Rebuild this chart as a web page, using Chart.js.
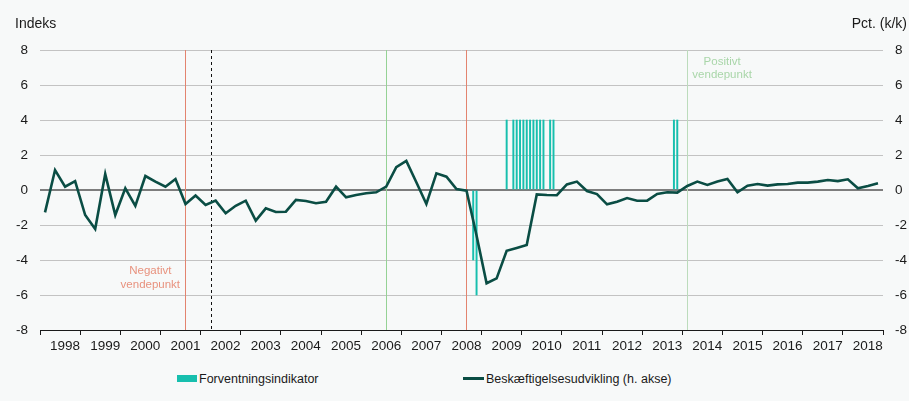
<!DOCTYPE html>
<html>
<head>
<meta charset="utf-8">
<script src="https://cdn.jsdelivr.net/npm/chart.js@4.4.1/dist/chart.umd.min.js"></script>
<style>
  body { margin: 0; background: #f7f9f9; font-family: 'Liberation Sans', Arial, sans-serif; color: #1a1a1a; }
  #wrap { position: relative; width: 909px; height: 401px; overflow: hidden; }
  #chart { position: absolute; left: 0; top: 0; }
  .axis-title { position: absolute; top: 15px; font-size: 14px; line-height: 16px; }
  .legend { position: absolute; top: 372px; font-size: 12.5px; line-height: 15px; white-space: nowrap; }
  .legend .box { display: inline-block; width: 20px; height: 7px; background: #17bfae; vertical-align: middle; margin-right: 2px; position: relative; top: -1px; }
  .legend .ln { display: inline-block; width: 21px; height: 3px; background: #0a4d44; vertical-align: middle; margin-right: 2px; position: relative; top: -1px; }
</style>
</head>
<body>
<div id="wrap">
  <canvas id="chart" width="909" height="362"></canvas>
  <div class="axis-title" style="left:15px">Indeks</div>
  <div class="axis-title" style="right:2px">Pct. (k/k)</div>
  <div class="legend" style="left:177px"><span class="box"></span>Forventningsindikator</div>
  <div class="legend" style="left:463px"><span class="ln"></span>Beskæftigelsesudvikling (h. akse)</div>
</div>
<script>
// år på x-aksen
const yearLabels = ['1998', '1999', '2000', '2001', '2002', '2003', '2004', '2005', '2006', '2007',
  '2008', '2009', '2010', '2011', '2012', '2013', '2014', '2015', '2016', '2017', '2018'];
const firstYear = 1998;

// beskæftigelsesudvikling, pct. k/k, kvartaler fra 1998K1
const employment = [
  -1.28, 1.14, 0.19, 0.51, -1.43, -2.23, 0.91, -1.43, 0.10, -0.91, 0.80, 0.48, 0.19, 0.63, -0.80, -0.32,
  -0.86, -0.61, -1.33, -0.90, -0.61, -1.75, -1.05, -1.26, -1.24, -0.57, -0.63, -0.76, -0.67, 0.19, -0.42, -0.29,
  -0.19, -0.13, 0.19, 1.30, 1.66, 0.44, -0.80, 0.95, 0.76, 0.06, -0.04, -2.60, -5.33, -5.05, -3.47, -3.31,
  -3.14, -0.25, -0.29, -0.30, 0.32, 0.48, -0.06, -0.23, -0.82, -0.67, -0.46, -0.61, -0.61, -0.23, -0.13, -0.15,
  0.23, 0.48, 0.29, 0.48, 0.63, -0.13, 0.25, 0.34, 0.25, 0.32, 0.34, 0.42, 0.42, 0.48, 0.57, 0.51,
  0.61, 0.10, 0.23, 0.38
];

// forventningsindikator, måneder med signal
const indicatorMonths = ['2008-10', '2008-11', '2009-08', '2009-10', '2009-11', '2009-12', '2010-01', '2010-02',
  '2010-03', '2010-04', '2010-05', '2010-06', '2010-07', '2010-09', '2010-10', '2013-10', '2013-11'];
const indicatorValues = [-4, -6, 4, 4, 4, 4, 4, 4, 4, 4, 4, 4, 4, 4, 4, 4, 4];

// vendepunkter (årstal med decimaler)
const turningDates = [2001.62, 2002.25, 2006.63, 2008.62, 2014.12];
const turningKinds = ['neg', 'cut', 'pos', 'neg', 'pos2'];

const lineStyles = {
  neg: { color: '#e3846f', dash: [] },
  cut: { color: '#111111', dash: [3, 3] },
  pos: { color: '#95d295', dash: [] },
  pos2: { color: '#bcdcbc', dash: [] }
};

const monthToX = s => {
  const [y, m] = s.split('-').map(Number);
  return y + (m - 0.5) / 12;
};

const turningPlugin = {
  id: 'turning',
  beforeDatasetsDraw(chart) {
    const { ctx, chartArea, scales } = chart;
    ctx.save();
    turningDates.forEach((d, i) => {
      const st = lineStyles[turningKinds[i]];
      const x = Math.round(scales.x.getPixelForValue(d)) + 0.5;
      ctx.strokeStyle = st.color;
      ctx.lineWidth = 1;
      ctx.setLineDash(st.dash);
      ctx.beginPath();
      ctx.moveTo(x, chartArea.top);
      ctx.lineTo(x, chartArea.bottom);
      ctx.stroke();
    });
    ctx.setLineDash([]);
    ctx.font = '11.5px "Liberation Sans", Arial, sans-serif';
    ctx.textAlign = 'center';
    ctx.textBaseline = 'middle';
    const xNeg = scales.x.getPixelForValue(turningDates[0]);
    ctx.fillStyle = '#e8927e';
    ctx.fillText('Negativt', xNeg - 35, 271);
    ctx.fillText('vendepunkt', xNeg - 35, 285);
    const xPos = scales.x.getPixelForValue(turningDates[4]);
    ctx.fillStyle = '#a9d6a9';
    ctx.fillText('Positivt', xPos + 35, 62);
    ctx.fillText('vendepunkt', xPos + 35, 75);
    ctx.restore();
  }
};

const tickFont = { family: "'Liberation Sans', Arial, sans-serif", size: 13.5 };

new Chart(document.getElementById('chart'), {
  data: {
    datasets: [
      {
        type: 'line',
        label: 'Beskæftigelsesudvikling (h. akse)',
        data: employment.map((v, i) => ({ x: firstYear + (i + 0.5) / 4, y: v })),
        borderColor: '#0a4d44',
        borderWidth: 2.6,
        pointRadius: 0,
        tension: 0,
        yAxisID: 'y2',
        order: 0
      },
      {
        type: 'bar',
        label: 'Forventningsindikator',
        data: indicatorMonths.map((m, i) => ({ x: monthToX(m), y: indicatorValues[i] })),
        backgroundColor: '#17bfae',
        barThickness: 1.3,
        yAxisID: 'y',
        order: 1
      }
    ]
  },
  plugins: [turningPlugin],
  options: {
    responsive: false,
    animation: false,
    layout: { padding: { top: 50, left: 0, right: 0, bottom: 0 } },
    plugins: { legend: { display: false }, tooltip: { enabled: false } },
    scales: {
      x: {
        type: 'linear',
        offset: false,
        min: firstYear,
        max: firstYear + yearLabels.length,
        afterFit: s => { s.height = 32; },
        ticks: {
          stepSize: 1,
          autoSkip: false,
          maxRotation: 0,
          labelOffset: 25,
          padding: 3,
          color: '#1a1a1a',
          font: tickFont,
          callback: (v, i) => yearLabels[i] ?? ''
        },
        grid: { offset: false, drawOnChartArea: false, color: '#1a1a1a', tickLength: 5 },
        border: { color: '#1a1a1a', width: 1 }
      },
      y: {
        position: 'left',
        min: -8,
        max: 8,
        afterFit: s => { s.width = 40; },
        ticks: { stepSize: 2, padding: 12, color: '#1a1a1a', font: tickFont },
        grid: {
          drawTicks: false,
          color: c => c.tick.value === 0 ? '#7d7d7d' : '#c3c3c3',
          lineWidth: c => c.tick.value === 0 ? 2 : 1
        },
        border: { display: false }
      },
      y2: {
        position: 'right',
        min: -8,
        max: 8,
        afterFit: s => { s.width = 26; },
        ticks: { stepSize: 2, padding: 12, color: '#1a1a1a', font: tickFont },
        grid: { display: false, drawTicks: false },
        border: { display: false }
      }
    }
  }
});
</script>
</body>
</html>
